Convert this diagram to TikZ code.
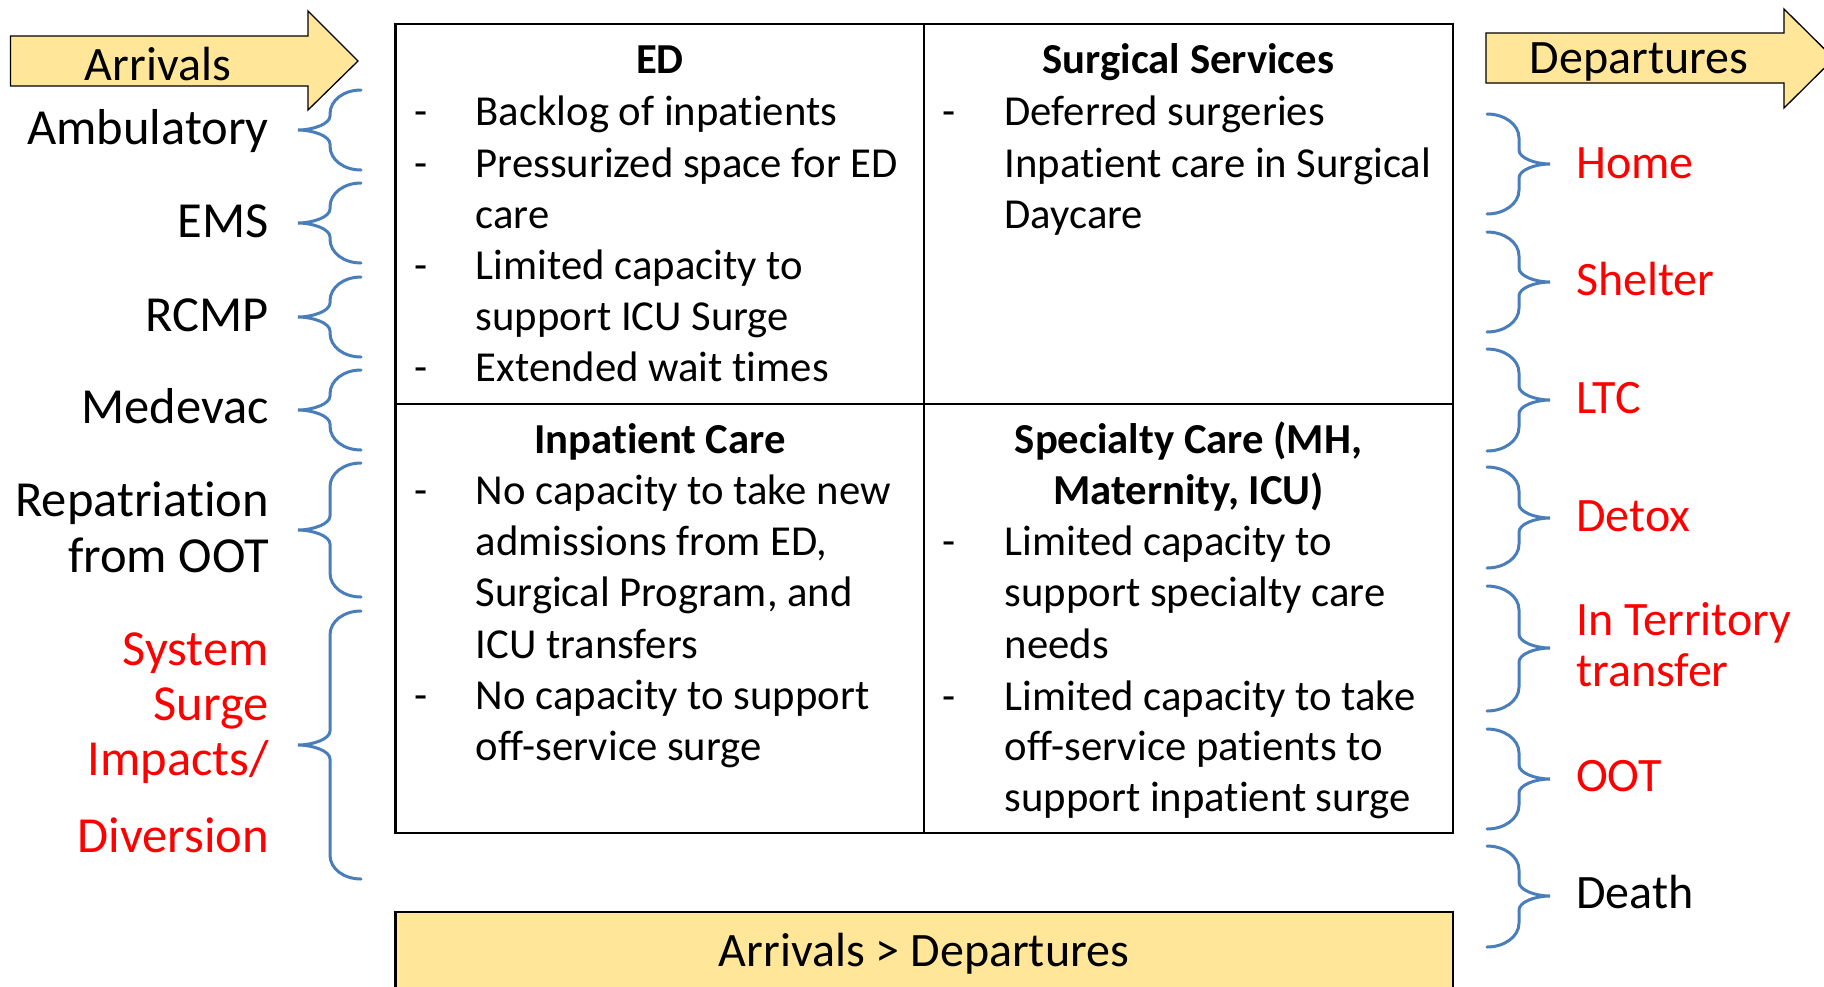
\documentclass[tikz,border=0pt]{standalone}
\usepackage{fontspec}
\setmainfont{Carlito}[Ligatures={NoCommon}]
\definecolor{gold}{HTML}{FFE699}
\definecolor{bracecol}{HTML}{4A7EBB}
\definecolor{redtxt}{HTML}{FF0000}
\tikzset{
  bracestyle/.style={draw=bracecol, line width=3pt, line cap=round},
  tline/.style={anchor=base west, inner sep=0pt, font=\fontsize{42.7}{51}\selectfont},
  ttitle/.style={anchor=base, inner sep=0pt, font=\fontsize{42.7}{51}\selectfont\bfseries},
  llab/.style={anchor=base east, inner sep=0pt, font=\fontsize{50.5}{56}\selectfont},
  rlab/.style={anchor=base west, inner sep=0pt, font=\fontsize{48}{56}\selectfont},
  arrlab/.style={anchor=base, inner sep=0pt, font=\fontsize{48}{56}\selectfont},
  goldshape/.style={fill=gold, draw=black, line width=1.3pt, line join=miter},
  gridline/.style={draw=black, line width=2.6pt},
}
% left brace: #1 end x, #2 top y, #3 bottom y, #4 point y
\newcommand{\leftbrc}[4]{%
  \draw[bracestyle] (#1,#2) .. controls ({#1-17},#2) and ({#1-31},{#2+10}) .. ({#1-31},{#2+24})
    -- ({#1-31},{#4-14}) .. controls ({#1-31},{#4-6}) and ({#1-48},#4) .. ({#1-63},#4)
    .. controls ({#1-48},#4) and ({#1-31},{#4+6}) .. ({#1-31},{#4+14})
    -- ({#1-31},{#3-24}) .. controls ({#1-31},{#3-10}) and ({#1-17},#3) .. (#1,#3);}
% right brace
\newcommand{\rightbrc}[4]{%
  \draw[bracestyle] (#1,#2) .. controls ({#1+17},#2) and ({#1+32},{#2+10}) .. ({#1+32},{#2+24})
    -- ({#1+32},{#4-14}) .. controls ({#1+32},{#4-6}) and ({#1+48},#4) .. ({#1+63},#4)
    .. controls ({#1+48},#4) and ({#1+32},{#4+6}) .. ({#1+32},{#4+14})
    -- ({#1+32},{#3-24}) .. controls ({#1+32},{#3-10}) and ({#1+17},#3) .. (#1,#3);}
\begin{document}
\begin{tikzpicture}[x=1pt,y=-1pt]
\useasboundingbox (0,0) rectangle (1824,986);
\clip (0,0) rectangle (1824,986);
\fill[white] (0,0) rectangle (1824,986);

% arrows
\draw[goldshape] (10.5,36) -- (308,36) -- (308,11) -- (358,61) -- (308,110) -- (308,86) -- (10.5,86) -- cycle;
\node[arrlab] (arrivals) at (158,80) {Arrivals};
\draw[goldshape] (1486,33) -- (1784,33) -- (1784,9) -- (1834,58.5) -- (1784,108) -- (1784,83) -- (1486,83) -- cycle;
\node[arrlab] (departures) at (1639,73) {Departures};

% table
\draw[gridline] (395.6,24) rectangle (1453,833);
\draw[gridline] (924,24) -- (924,833);
\draw[gridline] (395.6,404) -- (1453,404);

% bottom box
\draw[fill=gold, draw=black, line width=2.6pt] (395.6,912) rectangle (1453,1000);
\node[arrlab] (balance) at (924,966) {Arrivals > Departures};

% ED cell
\node[ttitle] (edt) at (660,73) {ED};
\node[tline] (ed1d) at (414,125) {-};
\node[tline] (ed1) at (475.5,125) {Backlog of inpatients};
\node[tline] (ed2d) at (414,177) {-};
\node[tline] (ed2) at (475.5,177) {Pressurized space for ED};
\node[tline] (ed3) at (475.5,228) {care};
\node[tline] (ed4d) at (414,279) {-};
\node[tline] (ed4) at (475.5,279) {Limited capacity to};
\node[tline] (ed5) at (475.5,330) {support ICU Surge};
\node[tline] (ed6d) at (414,381) {-};
\node[tline] (ed6) at (475.5,381) {Extended wait times};

% Surgical cell
\node[ttitle] (sst) at (1188.5,73) {Surgical Services};
\node[tline] (ss1d) at (942,125) {-};
\node[tline] (ss1) at (1004.5,125) {Deferred surgeries};
\node[tline] (ss2) at (1004.5,177) {Inpatient care in Surgical};
\node[tline] (ss3) at (1004.5,228) {Daycare};

% Inpatient cell
\node[ttitle] (ipt) at (660,453) {Inpatient Care};
\node[tline] (ip1d) at (414,504) {-};
\node[tline] (ip1) at (475.5,504) {No capacity to take new};
\node[tline] (ip2) at (475.5,555) {admissions from ED,};
\node[tline] (ip3) at (475.5,606) {Surgical Program, and};
\node[tline] (ip4) at (475.5,658) {ICU transfers};
\node[tline] (ip5d) at (414,709) {-};
\node[tline] (ip5) at (475.5,709) {No capacity to support};
\node[tline] (ip6) at (475.5,760) {off-service surge};

% Specialty cell
\node[ttitle] (sct1) at (1188.5,453) {Specialty Care (MH,};
\node[ttitle] (sct2) at (1188.5,504) {Maternity, ICU)};
\node[tline] (sc1d) at (942,555) {-};
\node[tline] (sc1) at (1004.5,555) {Limited capacity to};
\node[tline] (sc2) at (1004.5,606) {support specialty care};
\node[tline] (sc3) at (1004.5,658) {needs};
\node[tline] (sc4d) at (942,710) {-};
\node[tline] (sc4) at (1004.5,710) {Limited capacity to take};
\node[tline] (sc5) at (1004.5,760) {off-service patients to};
\node[tline] (sc6) at (1004.5,811) {support inpatient surge};

% left labels
\node[llab] (amb) at (269,144) {Ambulatory};
\node[llab] (ems) at (269,237) {EMS};
\node[llab] (rcmp) at (269,331) {RCMP};
\node[llab] (medevac) at (269,423) {Medevac};
\node[llab] (rep1) at (269,516) {Repatriation};
\node[llab] (rep2) at (269,572) {from OOT};
\node[llab, text=redtxt] (sys1) at (269,665) {System};
\node[llab, text=redtxt] (sys2) at (269,720) {Surge};
\node[llab, text=redtxt] (sys3) at (269,775) {Impacts/};
\node[llab, text=redtxt] (sys4) at (269,852) {Diversion};

% right labels
\node[rlab, text=redtxt] (home) at (1576,178) {Home};
\node[rlab, text=redtxt] (shelter) at (1576,295) {Shelter};
\node[rlab, text=redtxt] (ltc) at (1576,413) {LTC};
\node[rlab, text=redtxt] (detox) at (1576,531) {Detox};
\node[rlab, text=redtxt] (terr1) at (1576,635) {In Territory};
\node[rlab, text=redtxt] (terr2) at (1576,686) {transfer};
\node[rlab, text=redtxt] (oot) at (1576,791) {OOT};
\node[rlab] (death) at (1576,908) {Death};

% left braces
\leftbrc{361}{90}{170}{130}
\leftbrc{361}{183}{263}{223}
\leftbrc{361}{277}{357}{317}
\leftbrc{361}{370}{450}{410}
\leftbrc{361}{463}{597}{530}
\leftbrc{361}{611}{879}{745}

% right braces
\rightbrc{1487}{114}{214}{164}
\rightbrc{1487}{232}{332}{282}
\rightbrc{1487}{349}{451}{400}
\rightbrc{1487}{467}{568}{518}
\rightbrc{1487}{586}{711}{648}
\rightbrc{1487}{729}{829}{779}
\rightbrc{1487}{846}{947}{896}
\end{tikzpicture}
\end{document}
